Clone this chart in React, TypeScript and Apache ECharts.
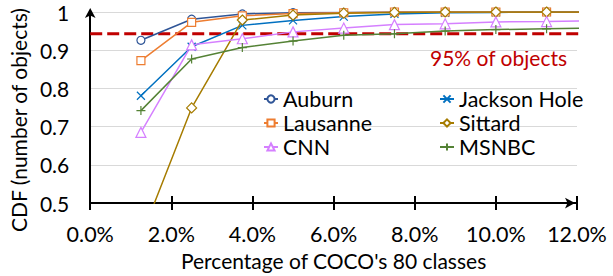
import React, { useEffect, useRef } from "react";
import * as echarts from "echarts";

const xValues = [1.25, 2.5, 3.75, 5, 6.25, 7.5, 8.75, 10, 11.25, 12.5];
const auburn = [0.926, 0.981, 0.995, 0.998, 0.999, 1, 1, 1, 1, 1];
const jacksonHole = [0.781, 0.909, 0.965, 0.978, 0.988, 0.995, 0.998, 0.999, 1, 1];
const lausanne = [0.873, 0.973, 0.99, 0.996, 0.998, 1, 1, 1, 1, 1];
const sittard = [0.41, 0.749, 0.979, 0.992, 0.997, 0.999, 1, 1, 1, 1];
const cnn = [0.685, 0.914, 0.93, 0.948, 0.958, 0.967, 0.969, 0.974, 0.975, 0.977];
const msnbc = [0.742, 0.877, 0.907, 0.924, 0.939, 0.943, 0.95, 0.954, 0.956, 0.958];
const thresholdLine = [[0, 0.943], [12.2, 0.943]];

const FONT = "Lato";
const CROSS = "path://M0,0L10,10M10,0L0,10";
const PLUS = "path://M5,0L5,10M0,5L10,5";

const seriesDefs = [
  { name: "Auburn", data: auburn, color: "#2F5597", symbol: "circle", size: 8 },
  { name: "Jackson Hole", data: jacksonHole, color: "#0070C0", symbol: CROSS, size: 8 },
  { name: "Lausanne", data: lausanne, color: "#ED7D31", symbol: "rect", size: 8 },
  { name: "Sittard", data: sittard, color: "#A67C00", symbol: "diamond", size: 10 },
  { name: "CNN", data: cnn, color: "#D580FF", symbol: "triangle", size: 10 },
  { name: "MSNBC", data: msnbc, color: "#548235", symbol: PLUS, size: 9 },
];

export default function App() {
  const ref = useRef<HTMLDivElement>(null);
  useEffect(() => {
    if (!ref.current) return;
    const chart = echarts.init(ref.current, undefined, { renderer: "svg" });
    const series: any[] = seriesDefs.map((s) => ({
      name: s.name,
      type: "line",
      data: xValues.map((x, i) => [x, s.data[i]]),
      symbol: s.symbol,
      symbolSize: s.size,
      showAllSymbol: true,
      clip: true,
      lineStyle: { color: s.color, width: 1.5 },
      itemStyle: { color: "#ffffff", borderColor: s.color, borderWidth: 1.2 },
      z: 3,
    }));
    series.push({
      name: "95%",
      type: "line",
      data: thresholdLine,
      symbol: "none",
      clip: false,
      lineStyle: { color: "#C00000", width: 3, type: [12, 5] },
      z: 2,
      silent: true,
    });
    const legendText = { fontFamily: FONT, fontSize: 21.5, color: "#000", lineHeight: 22 };
    chart.setOption({
      animation: false,
      grid: { left: 88, right: 36, top: 12, bottom: 70 },
      legend: [
        {
          data: ["Auburn", "Lausanne", "CNN"],
          orient: "vertical",
          left: 258,
          top: 83,
          itemWidth: 14,
          itemHeight: 9,
          itemGap: 2,
          textStyle: legendText,
          selectedMode: false,
        },
        {
          data: ["Jackson Hole", "Sittard", "MSNBC"],
          orient: "vertical",
          left: 434,
          top: 83,
          itemWidth: 14,
          itemHeight: 9,
          itemGap: 2,
          textStyle: legendText,
          selectedMode: false,
        },
      ],
      xAxis: [
        {
          type: "value",
          min: 0,
          max: 12,
          interval: 2,
          position: "bottom",
          name: "Percentage of COCO's 80 classes",
          nameLocation: "middle",
          nameGap: 46,
          nameTextStyle: { fontFamily: FONT, fontSize: 21, color: "#000" },
          axisLine: {
            show: true,
            lineStyle: { color: "#000", width: 2 },
            symbol: ["none", "arrow"],
            symbolSize: [8, 10],
            symbolOffset: [0, -2],
          },
          axisTick: { show: true, inside: false, length: 7, lineStyle: { color: "#000", width: 2 } },
          axisLabel: {
            fontFamily: FONT,
            fontSize: 21.5,
            color: "#000",
            margin: 20,
            formatter: (v: number) => v.toFixed(1) + "%",
          },
          splitLine: { show: false },
        },
        {
          type: "value",
          min: 0,
          max: 12,
          interval: 2,
          position: "bottom",
          axisLine: { show: false },
          axisTick: { show: true, inside: true, length: 7, lineStyle: { color: "#000", width: 2 } },
          axisLabel: { show: false },
          splitLine: { show: false },
        },
      ],
      yAxis: {
        type: "value",
        min: 0.5,
        max: 1,
        interval: 0.1,
        name: "CDF (number of objects)",
        nameLocation: "middle",
        nameGap: 57,
        nameTextStyle: { fontFamily: FONT, fontSize: 21, color: "#000", padding: [0, 25, 0, 0] },
        axisLine: {
          show: true,
          lineStyle: { color: "#000", width: 2 },
          symbol: ["none", "arrow"],
          symbolSize: [8, 10],
          symbolOffset: [0, 4],
        },
        axisTick: { show: false },
        axisLabel: {
          fontFamily: FONT,
          fontSize: 21,
          color: "#000",
          margin: 21,
          formatter: (v: number) => (Math.abs(v - 1) < 1e-9 ? "1" : v.toFixed(1)),
        },
        splitLine: { show: true, lineStyle: { color: "#D9D9D9", width: 1 } },
      },
      graphic: [
        {
          type: "text",
          left: 430,
          top: 47,
          style: { text: "95% of objects", fill: "#C00000", font: `21px ${FONT}` },
        },
      ],
      series,
    });
    return () => chart.dispose();
  }, []);
  return <div ref={ref} style={{ width: 613, height: 276, position: "absolute", left: 0, top: 0 }} />;
}
